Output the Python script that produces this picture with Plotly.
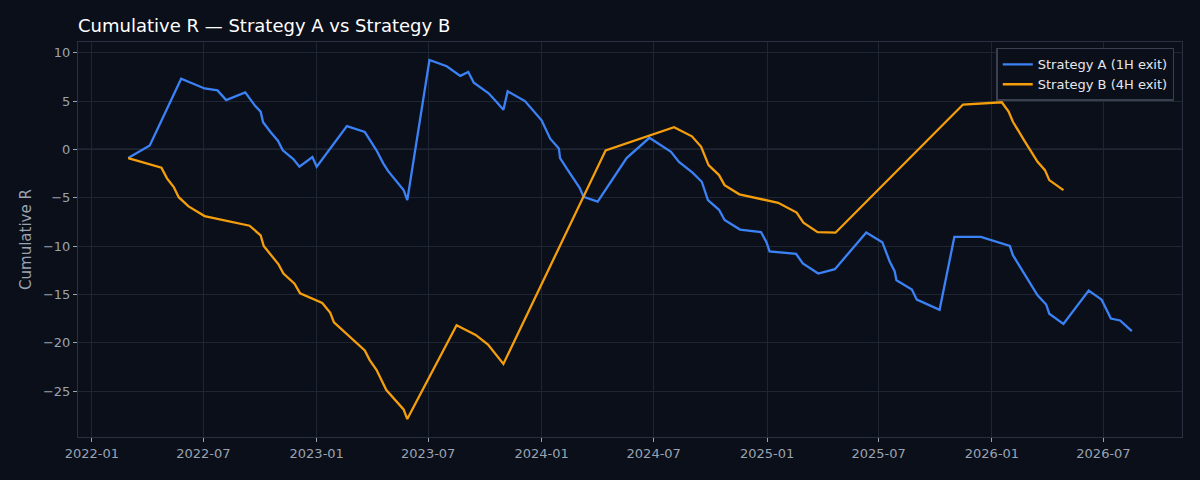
import plotly.graph_objects as go
import pandas as pd

dates_a = ["2022-03-01","2022-04-05","2022-05-26","2022-07-03","2022-07-24","2022-08-07","2022-09-07","2022-09-23",
           "2022-10-02","2022-10-06","2022-10-18","2022-10-30","2022-11-07","2022-11-24","2022-12-04","2022-12-25",
           "2023-01-01","2023-02-19","2023-03-20","2023-04-08","2023-04-19","2023-04-27","2023-05-22","2023-05-28",
           "2023-07-03","2023-07-31","2023-08-22","2023-09-04","2023-09-13","2023-10-07","2023-10-20","2023-10-31",
           "2023-11-07","2023-12-05","2024-01-01","2024-01-15","2024-01-29","2024-01-31","2024-02-11","2024-02-20",
           "2024-03-03","2024-03-09","2024-04-01","2024-05-18","2024-06-24","2024-07-29","2024-08-11","2024-09-02",
           "2024-09-17","2024-09-27","2024-10-15","2024-10-24","2024-11-18","2024-12-22","2024-12-31","2025-01-05",
           "2025-02-17","2025-02-28","2025-03-25","2025-04-21","2025-06-11","2025-07-07","2025-07-19","2025-07-27",
           "2025-07-30","2025-08-24","2025-09-01","2025-10-08","2025-11-01","2025-12-14","2026-01-30","2026-02-04",
           "2026-02-22","2026-03-16","2026-03-30","2026-04-04","2026-04-27","2026-06-07","2026-06-28","2026-07-13",
           "2026-07-28","2026-08-16"]
values_a = [-0.9, 0.4, 7.3, 6.3, 6.1, 5.1, 5.9, 4.5,
            3.9, 2.8, 1.8, 0.9, -0.1, -1.0, -1.8, -0.8,
            -1.8, 2.4, 1.8, -0.1, -1.45, -2.25, -4.2, -5.25,
            9.25, 8.6, 7.6, 8.0, 6.9, 5.8, 4.9, 4.1,
            6.0, 5.0, 3.0, 1.1, 0.1, -0.9, -2.0, -2.9,
            -4.0, -4.9, -5.4, -0.9, 1.2, -0.25, -1.3, -2.4,
            -3.35, -5.25, -6.25, -7.3, -8.3, -8.55, -9.6, -10.55,
            -10.8, -11.8, -12.85, -12.4, -8.6, -9.6, -11.6, -12.6,
            -13.55, -14.5, -15.55, -16.6, -9.05, -9.05, -10.0, -10.95,
            -12.85, -15.1, -16.05, -17.0, -18.05, -14.6, -15.55, -17.5,
            -17.7, -18.8]

dates_b = ["2022-03-01","2022-04-24","2022-05-03","2022-05-14","2022-05-22","2022-06-07","2022-07-03","2022-09-14",
           "2022-10-02","2022-10-07","2022-10-31","2022-11-08","2022-11-26","2022-12-05","2023-01-10","2023-01-23",
           "2023-01-29","2023-03-20","2023-03-28","2023-04-08","2023-04-24","2023-05-22","2023-05-28","2023-08-16",
           "2023-09-16","2023-10-06","2023-10-31","2024-04-14","2024-08-03","2024-09-01","2024-09-16","2024-09-28",
           "2024-10-15","2024-10-24","2024-11-17","2025-01-19","2025-02-18","2025-03-01","2025-03-24","2025-04-22",
           "2025-11-15","2026-01-17","2026-01-28","2026-02-04","2026-02-22","2026-03-16","2026-03-28","2026-04-04",
           "2026-04-27"]
values_b = [-0.9, -1.9, -3.0, -3.9, -4.95, -5.9, -6.9, -7.9,
            -8.9, -10.0, -11.9, -12.85, -13.9, -14.9, -15.9, -16.9,
            -17.9, -20.8, -21.8, -22.8, -24.9, -26.9, -27.9, -18.2,
            -19.2, -20.2, -22.2, -0.1, 2.3, 1.35, 0.27, -1.63,
            -2.66, -3.7, -4.65, -5.53, -6.54, -7.58, -8.57, -8.62,
            4.64, 4.87, 3.9, 2.86, 0.96, -1.28, -2.15, -3.18,
            -4.22]

series_names = ["Strategy A (1H exit)", "Strategy B (4H exit)"]
colors = ["#3b82f6", "#f59e0b"]

BG = "#0b0f19"
GRID = "#1f2633"
TXT = "#9aa3b2"

fig = go.Figure()
for d, v, n, c in [(dates_a, values_a, series_names[0], colors[0]),
                   (dates_b, values_b, series_names[1], colors[1])]:
    fig.add_trace(go.Scatter(x=pd.to_datetime(d), y=v, mode="lines", name=n,
                             line=dict(color=c, width=2.3)))

all_d = pd.to_datetime(dates_a + dates_b)
dmin, dmax = all_d.min(), all_d.max()
pad = (dmax - dmin) * 0.05
all_v = values_a + values_b
vmin, vmax = min(all_v), max(all_v)
vpad = (vmax - vmin) * 0.05

fig.add_hline(y=0, line=dict(color="#4b5263", width=1.2), layer="below")

fig.update_layout(
    width=1200, height=480,
    paper_bgcolor=BG, plot_bgcolor=BG,
    margin=dict(l=78, r=18, t=42, b=43),
    font=dict(family="DejaVu Sans", color=TXT, size=13),
    title=dict(text="Cumulative R — Strategy A vs Strategy B", x=78/1200, xanchor="left",
               y=1 - 26/480, yanchor="middle", font=dict(color="#ffffff", size=18)),
    showlegend=True,
    legend=dict(x=0.993, y=0.985, xanchor="right", yanchor="top", itemwidth=30,
                tracegroupgap=0,
                bgcolor=BG, bordercolor="#3a4050", borderwidth=1.5,
                font=dict(color="#e6e8ee", size=13)),
)
fig.update_xaxes(range=[dmin - pad, dmax + pad], type="date", dtick="M6", tick0="2022-01-01",
                 tickformat="%Y-%m", showgrid=True, gridcolor=GRID, gridwidth=1,
                 showline=True, mirror=True, linecolor="#2a3040", linewidth=1,
                 ticks="outside", ticklen=4, tickcolor=TXT, zeroline=False,
                 tickfont=dict(color=TXT, size=13))
fig.update_yaxes(range=[vmin - vpad, vmax + vpad], dtick=5, showgrid=True, gridcolor=GRID, gridwidth=1,
                 showline=True, mirror=True, linecolor="#2a3040", linewidth=1,
                 ticks="outside", ticklen=4, tickcolor=TXT, zeroline=False,
                 title=dict(text="Cumulative R", font=dict(color=TXT, size=15), standoff=7),
                 tickfont=dict(color=TXT, size=13))

fig.write_html("out.html", config={"displayModeBar": False},
               post_script="document.body.style.margin='0';document.body.style.background='%s';" % BG)
